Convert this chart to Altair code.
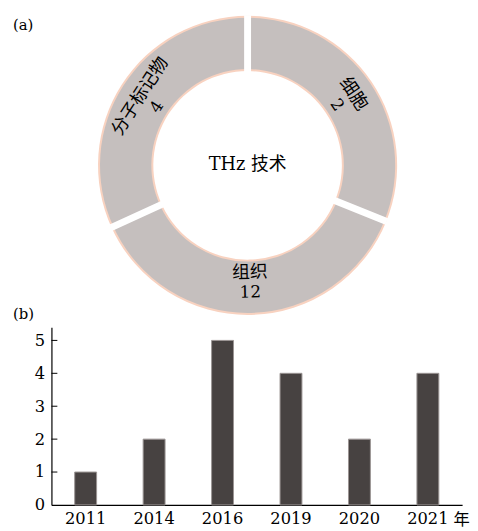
import altair as alt
import pandas as pd

# ---- data ----
sectors = ["细胞", "组织", "分子标记物"]
sector_counts = [2, 12, 4]
sector_span_deg = [112, 133.5, 114.5]   # angular span of each ring segment as drawn

years = ["2011", "2014", "2016", "2019", "2020", "2021"]
papers = [1, 2, 5, 4, 2, 4]
y_ticks = [0, 1, 2, 3, 4, 5]

FONT = "'DejaVu Serif', 'Noto Sans CJK SC'"
GREY = "#c5bfbe"
PEACH = "#f8d2c0"
DARK = "#474241"

df_d = pd.DataFrame({"idx": range(len(sectors)), "sector": sectors,
                     "count": sector_counts, "share": sector_span_deg})
df_b = pd.DataFrame({"year": years, "n": papers})
df_t = pd.DataFrame({"v": y_ticks[1:]})

CX, CY = 198.7, 155

base = alt.Chart(df_d).transform_window(
    cum="sum(share)", sort=[alt.SortField("idx")]
).transform_calculate(
    start="datum.cum - datum.share",
    mid="datum.cum - datum.share / 2",
    rot="(datum.cum - datum.share / 2 > 90 && datum.cum - datum.share / 2 < 270) ? (datum.cum - datum.share / 2 + 180) : (datum.cum - datum.share / 2)",
)

tscale = alt.Scale(domain=[0, 360])
th = alt.Theta("start:Q", scale=tscale, stack=None)
cx = alt.value(CX)
cy = alt.value(CY)

peach = base.mark_arc(fill=PEACH).encode(
    theta=th, theta2="cum:Q", x=cx, y=cy,
    radius=alt.value(151.5), radius2=alt.value(95.5))
grey = base.mark_arc(fill=GREY).encode(
    theta=th, theta2="cum:Q", x=cx, y=cy,
    radius=alt.value(149.5), radius2=alt.value(97.5))
seps = base.mark_arc(fill="white", stroke="white", strokeWidth=7, strokeJoin="bevel").encode(
    theta=th, theta2="start:Q", x=cx, y=cy,
    radius=alt.value(152), radius2=alt.value(93))

names = base.mark_text(font=FONT, fontSize=18, dy=-10, color="black").encode(
    theta=alt.Theta("mid:Q", scale=tscale, stack=None), x=cx, y=cy,
    radius=alt.value(119), angle=alt.Angle("rot:Q", scale=None),
    text="sector:N")
nums = base.mark_text(font=FONT, fontSize=17, dy=10, color="black").encode(
    theta=alt.Theta("mid:Q", scale=tscale, stack=None), x=cx, y=cy,
    radius=alt.value(119), angle=alt.Angle("rot:Q", scale=None),
    text="count:Q")

center = alt.Chart(pd.DataFrame({"t": ["THz 技术"]})).mark_text(
    font=FONT, fontSize=18, color="black").encode(x=cx, y=cy, text="t:N")
panel_a = alt.Chart(pd.DataFrame({"t": ["(a)"]})).mark_text(
    font=FONT, fontSize=15, align="left", color="black").encode(
    x=alt.value(-39), y=alt.value(13), text="t:N")
panel_b = alt.Chart(pd.DataFrame({"t": ["(b)"]})).mark_text(
    font=FONT, fontSize=15, align="left", color="black").encode(
    x=alt.value(-39), y=alt.value(306), text="t:N")

donut = alt.layer(peach, grey, seps, names, nums, center, panel_a, panel_b).properties(
    width=410, height=319)

yscale = alt.Scale(domain=[0, 5.4], nice=False)
yaxis = alt.Axis(title=None, values=y_ticks, grid=False, ticks=False, tickSize=0,
                 labelOverlap=False,
                 labelFont=FONT, labelFontSize=16.5, labelColor="black",
                 labelPadding=7, domainColor="black", domainWidth=1.2)

bars = alt.Chart(df_b).mark_bar(color=DARK, stroke="#9a9493", strokeWidth=1).encode(
    x=alt.X("year:N", sort=years,
            scale=alt.Scale(paddingInner=0.68, paddingOuter=0.34),
            axis=alt.Axis(title="年", titleX=415, titleY=15, titleAngle=0,
                          titleAlign="center", titleBaseline="middle",
                          titleFont=FONT, titleFontSize=16.5, titleFontWeight="normal",
                          titleColor="black",
                          labelAngle=0, labelFont=FONT, labelFontSize=16.5,
                          labelColor="black", labelPadding=6, ticks=False, tickSize=0,
                          domainColor="black", domainWidth=1.2)),
    y=alt.Y("n:Q", scale=yscale, axis=yaxis),
)
ticks = alt.Chart(df_t).mark_rule(color="black", strokeWidth=1).encode(
    y=alt.Y("v:Q", scale=yscale, axis=yaxis), x=alt.value(0), x2=alt.value(6))

panel_bars = alt.layer(bars, ticks).properties(width=416, height=180)

chart = alt.vconcat(donut, panel_bars, spacing=0).properties(
    padding={"left": 5, "top": 0, "right": 0, "bottom": 0}
).configure_view(stroke=None)

chart.save("out.html", embed_options={"renderer": "svg", "actions": False})
